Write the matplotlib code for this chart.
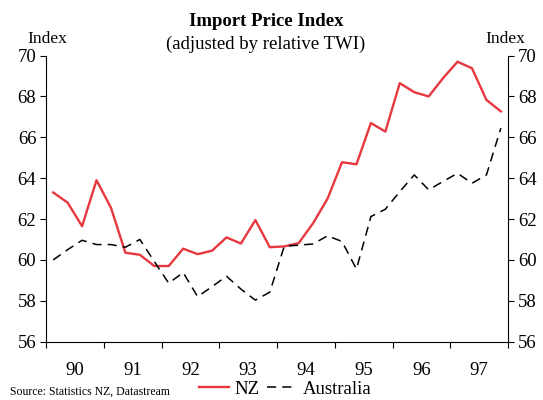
import matplotlib.pyplot as plt
import numpy as np

# quarterly data, 1990 Q1 .. 1997 Q4
years = [1990, 1991, 1992, 1993, 1994, 1995, 1996, 1997]
year_labels = ["90", "91", "92", "93", "94", "95", "96", "97"]

nz = [63.3, 62.8, 61.65, 63.9, 62.55, 60.35, 60.25, 59.7,
      59.7, 60.55, 60.28, 60.45, 61.1, 60.8, 61.95, 60.62,
      60.66, 60.82, 61.8, 63.0, 64.78, 64.68, 66.7, 66.28,
      68.65, 68.21, 68.0, 68.9, 69.7, 69.38, 67.83, 67.27]
australia = [60.0, 60.5, 60.96, 60.75, 60.75, 60.62, 61.0, 59.92,
             58.86, 59.38, 58.2, 58.69, 59.2, 58.57, 58.03, 58.42,
             60.67, 60.72, 60.78, 61.18, 60.9, 59.55, 62.12, 62.48,
             63.34, 64.16, 63.43, 63.84, 64.24, 63.75, 64.16, 66.45]

x = np.array([y + (q + 0.5) / 4 for y in years for q in range(4)])

plt.rcParams['font.family'] = ['Liberation Serif', 'DejaVu Serif']

fig = plt.figure(figsize=(5.43, 4.0), dpi=100)
ax = fig.add_axes([0.0847, 0.146, 0.851, 0.715])

ax.plot(x, nz, color='#e8383f', lw=1.7, label='NZ')
ax.plot(x, australia, color='black', lw=1.1, dashes=(6, 4), label='Australia')

ax.set_xlim(1990, 1998)
ax.set_ylim(56, 70)
ax.set_yticks(np.arange(56, 71, 2))
ax.set_xticks(np.arange(1990, 1999))
ax.set_xticklabels([])
ax.set_xticks([y + 0.5 for y in years], minor=True)
ax.set_xticklabels(year_labels, minor=True)
ax.tick_params(axis='x', which='minor', length=0, pad=15, labelsize=13.5)
ax.tick_params(axis='x', which='major', direction='out', length=4, width=0.8)
ax.tick_params(axis='y', direction='out', length=4, width=0.8, labelsize=13.5,
               left=True, right=True, labelleft=True, labelright=True, pad=3)
ax.spines['top'].set_visible(False)
for s in ['left', 'right', 'bottom']:
    ax.spines[s].set_linewidth(0.8)

fig.text(0.49, 0.945, "Import Price Index", ha='center', va='center',
         fontsize=13.5, fontweight='bold')
fig.text(0.49, 0.888, "(adjusted by relative TWI)", ha='center', va='center',
         fontsize=13.5)
fig.text(0.087, 0.902, "Index", ha='center', va='center', fontsize=12.5)
fig.text(0.93, 0.902, "Index", ha='center', va='center', fontsize=12.5)
fig.text(0.018, 0.02, "Source: Statistics NZ, Datastream", ha='left',
         va='center', fontsize=8.5)

fig.legend(loc='center', bbox_to_anchor=(0.525, 0.027), ncol=2, frameon=False,
           fontsize=13.5, handlelength=1.6, handletextpad=0.3, columnspacing=0.4,
           borderpad=0)

fig.savefig("out.png", dpi=100)
